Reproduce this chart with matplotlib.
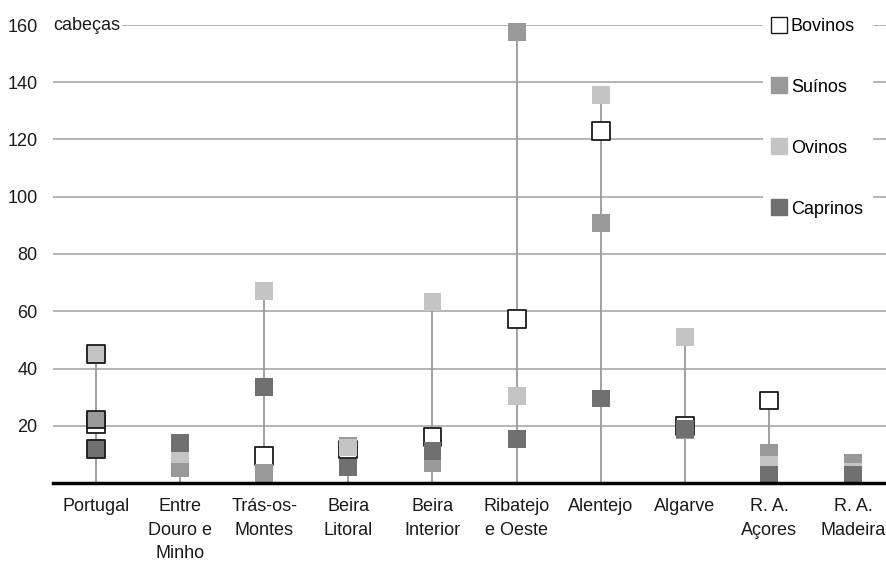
import numpy as np
import matplotlib.pyplot as plt
from matplotlib.lines import Line2D

plt.rcParams['font.family'] = ['Liberation Sans', 'DejaVu Sans']

regioes = ["Portugal", "Entre\nDouro e\nMinho", "Trás-os-\nMontes", "Beira\nLitoral",
           "Beira\nInterior", "Ribatejo\ne Oeste", "Alentejo", "Algarve",
           "R. A.\nAçores", "R. A.\nMadeira"]

# nan = marcador escondido atrás dos outros no original
bovinos = [20.5, np.nan, 9.4, 11.7, 16.1, 57.2, 123.0, 20.0, 28.8, np.nan]
suinos = [22.2, 5.3, 3.4, 13.0, 7.1, 157.7, 90.9, 18.5, 10.5, 7.0]
ovinos = [45.2, 10.0, 67.2, 12.4, 63.2, 30.4, 135.6, 51.1, 6.3, 3.9]
caprinos = [11.8, 14.0, 33.5, 5.4, 11.1, 15.5, 29.5, 19.0, 2.9, 2.8]

series = [("Bovinos", bovinos, "white", "#1a1a1a"),
          ("Suínos", suinos, "#999999", None),
          ("Ovinos", ovinos, "#c4c4c4", None),
          ("Caprinos", caprinos, "#707070", None)]

fs = 13

fig = plt.figure(figsize=(8.86, 5.61), dpi=100)
ax = fig.add_axes([53 / 886, 1 - 483 / 561, 1 - 53 / 886, (483 - 25) / 561])

x = np.arange(len(regioes))
topo = np.nanmax(np.array([bovinos, suinos, ovinos, caprinos]), axis=0)
ax.vlines(x, 0, topo, color="#9a9a9a", lw=1.3, zorder=2)

for nome, vals, cor, borda in series:
    edges = []
    larg = []
    for i in range(len(vals)):
        if borda is not None or i == 0:
            edges.append("#1a1a1a")
            larg.append(1.3)
        else:
            edges.append(cor)
            larg.append(0.0)
    ax.scatter(x, vals, marker="s", s=165, c=cor, edgecolors=edges,
               linewidths=larg, zorder=3, clip_on=False)

ax.set_xlim(-0.51, 9.39)
ax.set_ylim(0, 160)
ax.set_yticks(range(20, 161, 20))
ax.yaxis.grid(True, color="#a8a8a8", lw=1.2, zorder=0)
ax.set_axisbelow(True)
ax.set_xticks(x)
ax.set_xticklabels(regioes, linespacing=1.5)
ax.tick_params(axis="x", length=0, pad=11, labelsize=fs, colors="#1a1a1a")
ax.tick_params(axis="y", length=0, pad=11, labelsize=fs, colors="#1a1a1a")
for s in ["top", "right", "left"]:
    ax.spines[s].set_visible(False)
ax.spines["bottom"].set_linewidth(2.5)
ax.spines["bottom"].set_color("black")
ax.spines["bottom"].set_zorder(4)

ax.text(0.0, 160, "cabeças", transform=ax.get_yaxis_transform(), ha="left",
        va="center", fontsize=fs, color="#1a1a1a", zorder=5,
        bbox=dict(facecolor="white", edgecolor="none", pad=1.5))

handles = []
for nome, vals, cor, borda in series:
    handles.append(Line2D([], [], ls="none", marker="s", markersize=11,
                          markerfacecolor=cor,
                          markeredgecolor=borda if borda else cor,
                          markeredgewidth=1.0, label=nome))
leg = ax.legend(handles=handles, loc="upper left",
                bbox_to_anchor=(763 / 886, 1 - 8 / 561),
                bbox_transform=fig.transFigure, frameon=True,
                facecolor="white", edgecolor="none", framealpha=1,
                fontsize=fs, labelspacing=2.43, handlelength=0.7,
                handletextpad=0.3, borderpad=0.55, borderaxespad=0)
leg.get_frame().set_boxstyle("square", pad=0)
leg.set_zorder(6)

fig.savefig("out.png", dpi=100)
